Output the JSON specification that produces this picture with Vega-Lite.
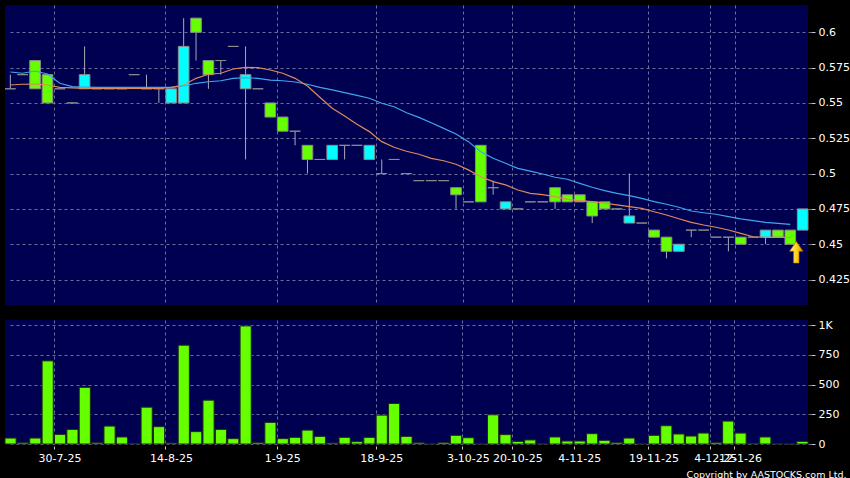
{
  "$schema": "https://vega.github.io/schema/vega-lite/v6.json",
  "background": "#000000",
  "padding": {"left": 4, "top": 5, "right": 0, "bottom": 0},
  "spacing": 14,
  "data": {
    "values": [
      {"i":1,"open":0.56,"high":0.57,"low":0.56,"close":0.56,"vol":50,"ma10":0.5627,"ma20":0.5719},
      {"i":2,"open":0.57,"high":0.57,"low":0.57,"close":0.57,"vol":10,"ma10":0.5632,"ma20":0.571},
      {"i":3,"open":0.58,"high":0.58,"low":0.56,"close":0.56,"vol":50,"ma10":0.5634,"ma20":0.5726},
      {"i":4,"open":0.57,"high":0.57,"low":0.55,"close":0.55,"vol":700,"ma10":0.5627,"ma20":0.5705},
      {"i":5,"open":0.56,"high":0.56,"low":0.56,"close":0.56,"vol":81,"ma10":0.561,"ma20":0.5639},
      {"i":6,"open":0.55,"high":0.55,"low":0.55,"close":0.55,"vol":123,"ma10":0.5606,"ma20":0.5615},
      {"i":7,"open":0.56,"high":0.59,"low":0.56,"close":0.57,"vol":477,"ma10":0.5603,"ma20":0.5612},
      {"i":8,"open":0.56,"high":0.56,"low":0.56,"close":0.56,"vol":10,"ma10":0.5603,"ma20":0.561},
      {"i":9,"open":0.56,"high":0.56,"low":0.56,"close":0.56,"vol":151,"ma10":0.5603,"ma20":0.561},
      {"i":10,"open":0.56,"high":0.56,"low":0.56,"close":0.56,"vol":59,"ma10":0.5603,"ma20":0.561},
      {"i":11,"open":0.57,"high":0.57,"low":0.57,"close":0.57,"vol":3,"ma10":0.5603,"ma20":0.561},
      {"i":12,"open":0.56,"high":0.57,"low":0.56,"close":0.56,"vol":310,"ma10":0.5603,"ma20":0.561},
      {"i":13,"open":0.56,"high":0.56,"low":0.55,"close":0.56,"vol":146,"ma10":0.5603,"ma20":0.561},
      {"i":14,"open":0.55,"high":0.56,"low":0.55,"close":0.56,"vol":8,"ma10":0.561,"ma20":0.561},
      {"i":15,"open":0.55,"high":0.61,"low":0.55,"close":0.59,"vol":832,"ma10":0.5627,"ma20":0.562},
      {"i":16,"open":0.61,"high":0.61,"low":0.58,"close":0.60,"vol":104,"ma10":0.5674,"ma20":0.5639},
      {"i":17,"open":0.58,"high":0.58,"low":0.56,"close":0.57,"vol":369,"ma10":0.5703,"ma20":0.565},
      {"i":18,"open":0.58,"high":0.58,"low":0.57,"close":0.58,"vol":123,"ma10":0.571,"ma20":0.5657},
      {"i":19,"open":0.59,"high":0.59,"low":0.59,"close":0.59,"vol":45,"ma10":0.574,"ma20":0.5674},
      {"i":20,"open":0.56,"high":0.59,"low":0.51,"close":0.57,"vol":994,"ma10":0.5752,"ma20":0.5679},
      {"i":21,"open":0.56,"high":0.56,"low":0.56,"close":0.56,"vol":12,"ma10":0.575,"ma20":0.5674},
      {"i":22,"open":0.55,"high":0.55,"low":0.54,"close":0.54,"vol":182,"ma10":0.5733,"ma20":0.5662},
      {"i":23,"open":0.54,"high":0.54,"low":0.53,"close":0.53,"vol":45,"ma10":0.571,"ma20":0.5657},
      {"i":24,"open":0.53,"high":0.53,"low":0.52,"close":0.53,"vol":56,"ma10":0.5674,"ma20":0.5648},
      {"i":25,"open":0.52,"high":0.52,"low":0.50,"close":0.51,"vol":117,"ma10":0.562,"ma20":0.5632},
      {"i":26,"open":0.51,"high":0.51,"low":0.51,"close":0.51,"vol":64,"ma10":0.554,"ma20":0.561},
      {"i":27,"open":0.51,"high":0.52,"low":0.51,"close":0.52,"vol":8,"ma10":0.5462,"ma20":0.5592},
      {"i":28,"open":0.52,"high":0.52,"low":0.51,"close":0.52,"vol":56,"ma10":0.5408,"ma20":0.5573},
      {"i":29,"open":0.52,"high":0.52,"low":0.52,"close":0.52,"vol":20,"ma10":0.5349,"ma20":0.5554},
      {"i":30,"open":0.51,"high":0.52,"low":0.51,"close":0.52,"vol":56,"ma10":0.5297,"ma20":0.5533},
      {"i":31,"open":0.50,"high":0.51,"low":0.50,"close":0.50,"vol":243,"ma10":0.5226,"ma20":0.5498},
      {"i":32,"open":0.51,"high":0.51,"low":0.51,"close":0.51,"vol":341,"ma10":0.5186,"ma20":0.5473},
      {"i":33,"open":0.50,"high":0.50,"low":0.50,"close":0.50,"vol":64,"ma10":0.5158,"ma20":0.543},
      {"i":34,"open":0.495,"high":0.495,"low":0.495,"close":0.495,"vol":10,"ma10":0.5137,"ma20":0.5398},
      {"i":35,"open":0.495,"high":0.495,"low":0.495,"close":0.495,"vol":0,"ma10":0.5108,"ma20":0.536},
      {"i":36,"open":0.495,"high":0.495,"low":0.495,"close":0.495,"vol":12,"ma10":0.5091,"ma20":0.532},
      {"i":37,"open":0.49,"high":0.49,"low":0.475,"close":0.485,"vol":73,"ma10":0.5066,"ma20":0.528},
      {"i":38,"open":0.48,"high":0.48,"low":0.48,"close":0.48,"vol":53,"ma10":0.5026,"ma20":0.5226},
      {"i":39,"open":0.52,"high":0.52,"low":0.48,"close":0.48,"vol":0,"ma10":0.4978,"ma20":0.5155},
      {"i":40,"open":0.49,"high":0.495,"low":0.485,"close":0.49,"vol":246,"ma10":0.4943,"ma20":0.5108},
      {"i":41,"open":0.475,"high":0.48,"low":0.475,"close":0.48,"vol":79,"ma10":0.492,"ma20":0.5073},
      {"i":42,"open":0.475,"high":0.475,"low":0.475,"close":0.475,"vol":22,"ma10":0.4884,"ma20":0.5037},
      {"i":43,"open":0.48,"high":0.48,"low":0.48,"close":0.48,"vol":34,"ma10":0.486,"ma20":0.5018},
      {"i":44,"open":0.48,"high":0.48,"low":0.48,"close":0.48,"vol":0,"ma10":0.4851,"ma20":0.4997},
      {"i":45,"open":0.49,"high":0.49,"low":0.475,"close":0.48,"vol":59,"ma10":0.4837,"ma20":0.4974},
      {"i":46,"open":0.485,"high":0.485,"low":0.48,"close":0.48,"vol":25,"ma10":0.4818,"ma20":0.496},
      {"i":47,"open":0.485,"high":0.485,"low":0.48,"close":0.48,"vol":25,"ma10":0.4808,"ma20":0.4931},
      {"i":48,"open":0.48,"high":0.48,"low":0.465,"close":0.47,"vol":87,"ma10":0.4801,"ma20":0.4903},
      {"i":49,"open":0.48,"high":0.48,"low":0.475,"close":0.475,"vol":31,"ma10":0.479,"ma20":0.4879},
      {"i":50,"open":0.475,"high":0.475,"low":0.475,"close":0.475,"vol":12,"ma10":0.4778,"ma20":0.486},
      {"i":51,"open":0.465,"high":0.50,"low":0.465,"close":0.47,"vol":50,"ma10":0.4766,"ma20":0.4844},
      {"i":52,"open":0.465,"high":0.465,"low":0.465,"close":0.465,"vol":0,"ma10":0.4754,"ma20":0.4825},
      {"i":53,"open":0.46,"high":0.46,"low":0.455,"close":0.455,"vol":73,"ma10":0.473,"ma20":0.4801},
      {"i":54,"open":0.455,"high":0.455,"low":0.44,"close":0.445,"vol":154,"ma10":0.4707,"ma20":0.4783},
      {"i":55,"open":0.445,"high":0.45,"low":0.445,"close":0.45,"vol":84,"ma10":0.468,"ma20":0.4762},
      {"i":56,"open":0.46,"high":0.46,"low":0.455,"close":0.46,"vol":67,"ma10":0.4655,"ma20":0.4735},
      {"i":57,"open":0.46,"high":0.46,"low":0.46,"close":0.46,"vol":92,"ma10":0.4636,"ma20":0.4723},
      {"i":58,"open":0.455,"high":0.455,"low":0.455,"close":0.455,"vol":12,"ma10":0.462,"ma20":0.4712},
      {"i":59,"open":0.455,"high":0.455,"low":0.445,"close":0.455,"vol":193,"ma10":0.4601,"ma20":0.4695},
      {"i":60,"open":0.455,"high":0.455,"low":0.45,"close":0.45,"vol":92,"ma10":0.4577,"ma20":0.4679},
      {"i":61,"open":0.455,"high":0.455,"low":0.455,"close":0.455,"vol":5,"ma10":0.4553,"ma20":0.4667},
      {"i":62,"open":0.455,"high":0.46,"low":0.45,"close":0.46,"vol":59,"ma10":0.4549,"ma20":0.4655},
      {"i":63,"open":0.46,"high":0.46,"low":0.455,"close":0.455,"vol":0,"ma10":0.4549,"ma20":0.4648},
      {"i":64,"open":0.46,"high":0.46,"low":0.45,"close":0.45,"vol":0,"ma10":0.4549,"ma20":0.4641},
      {"i":65,"open":0.46,"high":0.475,"low":0.46,"close":0.475,"vol":22,"ma10":null,"ma20":null}
    ]
  },
  "vconcat": [
    {
      "width": 803,
      "height": 300,
      "encoding": {
        "x": {
          "field": "i", "type": "ordinal",
          "scale": {"paddingInner": 0.14, "paddingOuter": 0},
          "axis": {
            "title": null, "labels": false, "ticks": false, "domain": false,
            "grid": true, "bandPosition": 0,
            "values": [5, 14, 23, 31, 38, 42, 47, 53, 58, 60]
          }
        }
      },
      "layer": [
        {
          "mark": {"type": "rule", "color": "#a8a8b8", "strokeWidth": 1},
          "encoding": {
            "y": {"field": "low", "type": "quantitative", "scale": {"domain": [0.407, 0.6193], "nice": false, "zero": false},
              "axis": {"orient": "right", "title": null, "values": [0.425, 0.45, 0.475, 0.5, 0.525, 0.55, 0.575, 0.6], "format": ".3~f", "grid": true}},
            "y2": {"field": "high"}
          }
        },
        {
          "mark": {"type": "bar", "stroke": "#8c8c8c", "strokeWidth": 1},
          "encoding": {
            "y": {"field": "open", "type": "quantitative", "scale": {"domain": [0.407, 0.6193], "nice": false, "zero": false}},
            "y2": {"field": "close"},
            "color": {
              "condition": {"test": "datum.close > datum.open", "value": "#00ffff"},
              "value": "#66ff00"
            }
          }
        },
        {
          "mark": {"type": "line", "color": "#3ea6ee", "strokeWidth": 1.2},
          "encoding": {
            "y": {"field": "ma20", "type": "quantitative", "scale": {"domain": [0.407, 0.6193], "nice": false, "zero": false}}
          }
        },
        {
          "mark": {"type": "line", "color": "#e0895a", "strokeWidth": 1.2},
          "encoding": {
            "y": {"field": "ma10", "type": "quantitative", "scale": {"domain": [0.407, 0.6193], "nice": false, "zero": false}}
          }
        },
        {
          "transform": [{"filter": "datum.i == 64"}],
          "mark": {
            "type": "point", "filled": true, "size": 467, "xOffset": 6, "yOffset": 8,
            "shape": "M0,-1L0.62,-0.1L0.25,-0.1L0.25,1L-0.25,1L-0.25,-0.1L-0.62,-0.1Z",
            "fill": {"gradient": "linear", "x1": 0, "y1": 0, "x2": 1, "y2": 0,
              "stops": [{"offset": 0, "color": "#fff3a0"}, {"offset": 0.5, "color": "#ffd21a"}, {"offset": 1, "color": "#d89400"}]},
            "stroke": "#a87000", "strokeWidth": 0.6, "opacity": 1
          },
          "encoding": {
            "y": {"field": "low", "type": "quantitative", "scale": {"domain": [0.407, 0.6193], "nice": false, "zero": false}}
          }
        }
      ]
    },
    {
      "width": 803,
      "height": 124,
      "mark": {"type": "bar", "color": "#66ff00", "stroke": "#1c2a1c", "strokeWidth": 1},
      "encoding": {
        "x": {
          "field": "i", "type": "ordinal",
          "scale": {"paddingInner": 0.1, "paddingOuter": 0},
          "axis": {
            "title": "Copyright by AASTOCKS.com Ltd.",
            "titleAnchor": "end", "titleAlign": "right", "titleX": 841, "titleY": 31, "titleBaseline": "alphabetic",
            "titleColor": "#ffffff", "titleFontSize": 9.5, "titleFontWeight": "normal", "titleFont": "DejaVu Sans",
            "labels": true, "ticks": true, "domain": false, "grid": true, "bandPosition": 0,
            "labelAngle": 0, "labelOverlap": false, "labelPadding": 3, "tickSize": 3, "offset": 2,
            "values": [5, 14, 23, 31, 38, 42, 47, 53, 58, 60],
            "labelExpr": "({'5':'30-7-25','14':'14-8-25','23':'1-9-25','31':'18-9-25','38':'3-10-25','42':'20-10-25','47':'4-11-25','53':'19-11-25','58':'4-12-25','60':'12-1-26'})[datum.value]"
          }
        },
        "y": {
          "field": "vol", "type": "quantitative",
          "scale": {"domain": [0, 1044], "nice": false},
          "axis": {"orient": "right", "title": null, "values": [0, 250, 500, 750, 1000], "grid": true,
            "labelExpr": "datum.value == 1000 ? '1K' : datum.label"}
        }
      }
    }
  ],
  "config": {
    "view": {"stroke": null, "fill": "#000050"},
    "axis": {
      "labelColor": "#ffffff", "labelFont": "DejaVu Sans", "labelFontSize": 11,
      "tickColor": "#c8c8c8", "tickSize": 4, "tickWidth": 1,
      "gridColor": "#7a7aa6", "gridDash": [3, 3], "gridWidth": 1, "gridOpacity": 0.9,
      "domain": false
    },
    "axisRight": {"offset": 3, "labelPadding": 3, "tickSize": 4}
  }
}
